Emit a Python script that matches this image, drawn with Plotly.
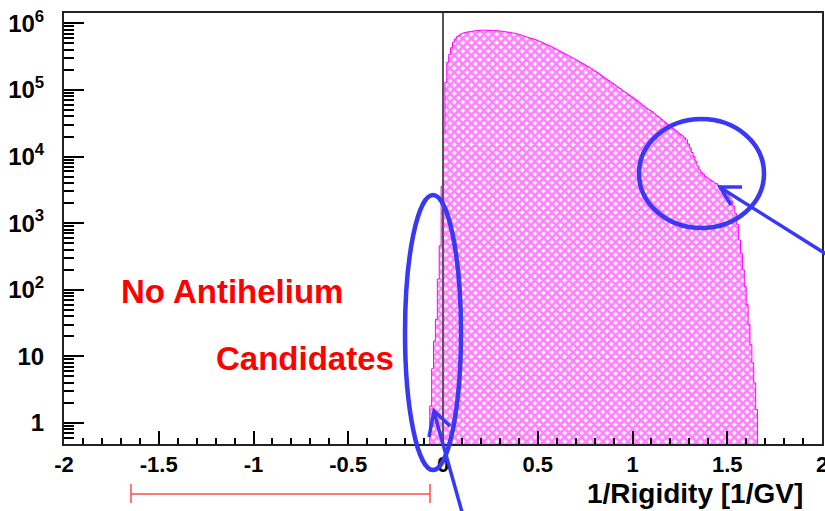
import plotly.graph_objects as go

# ---------------- data ----------------
bin_start = -0.07
bin_width = 0.01
counts = [
    1.8, 6.5, 17, 36, 145, 460, 3600,                     # -0.07 .. -0.01
    2.3e4, 1.3e5, 2.6e5, 3.4e5, 4.3e5, 5.2e5, 5.8e5, 6.3e5, 6.6e5, 6.9e5,   # 0.00 .. 0.09
    7.1e5, 7.25e5, 7.35e5, 7.45e5, 7.55e5, 7.6e5, 7.7e5, 7.75e5, 7.8e5, 7.85e5,  # 0.10 .. 0.19
    7.9e5, 7.9e5, 7.9e5, 7.9e5, 7.9e5, 7.85e5, 7.8e5, 7.8e5, 7.75e5, 7.7e5,  # 0.20 .. 0.29
    7.65e5, 7.6e5, 7.5e5, 7.45e5, 7.4e5, 7.3e5, 7.2e5, 7.1e5, 7.0e5, 6.9e5,  # 0.30 .. 0.39
    6.8e5, 6.65e5, 6.5e5, 6.35e5, 6.2e5, 6.05e5, 5.95e5, 5.85e5, 5.75e5, 5.6e5,  # 0.40 .. 0.49
    5.43e5, 5.28e5, 5.13e5, 4.98e5, 4.84e5, 4.7e5, 4.57e5, 4.42e5, 4.27e5, 4.12e5,  # 0.50 .. 0.59
    3.98e5, 3.85e5, 3.72e5, 3.6e5, 3.47e5, 3.35e5, 3.24e5, 3.13e5, 3.02e5, 2.92e5,  # 0.60 .. 0.69
    2.82e5, 2.71e5, 2.6e5, 2.51e5, 2.43e5, 2.33e5, 2.24e5, 2.15e5, 2.07e5, 1.98e5,  # 0.70 .. 0.79
    1.9e5, 1.82e5, 1.74e5, 1.66e5, 1.58e5, 1.51e5, 1.45e5, 1.38e5, 1.32e5, 1.26e5,  # 0.80 .. 0.89
    1.2e5, 1.15e5, 1.1e5, 1.05e5, 1.0e5, 9.5e4, 9.1e4, 8.7e4, 8.3e4, 7.9e4,  # 0.90 .. 0.99
    7.6e4, 7.25e4, 6.9e4, 6.55e4, 6.2e4, 5.9e4, 5.6e4, 5.35e4, 5.1e4, 4.9e4,  # 1.00 .. 1.09
    4.7e4, 4.45e4, 4.2e4, 4.0e4, 3.8e4, 3.6e4, 3.4e4, 3.22e4, 3.05e4, 2.9e4,  # 1.10 .. 1.19
    2.75e4, 2.62e4, 2.5e4, 2.37e4, 2.24e4, 2.14e4, 2.04e4, 1.92e4, 1.78e4, 1.55e4,  # 1.20 .. 1.29
    1.35e4, 1.15e4, 1.0e4, 8.5e3, 7.2e3, 6.3e3, 5.75e3, 5.4e3, 5.0e3, 4.8e3,  # 1.30 .. 1.39
    4.6e3, 4.4e3, 4.2e3, 4.0e3, 3.9e3, 3.7e3, 3.6e3, 3.45e3, 3.2e3, 2.95e3,  # 1.40 .. 1.49
    2.7e3, 2.4e3, 2.15e3, 1.8e3, 1.4e3, 950, 560, 355, 200, 112,  # 1.50 .. 1.59
    60, 30, 15, 8, 4, 1.6,  # 1.60 .. 1.65
]

x_tick_vals = [-2, -1.5, -1, -0.5, 0, 0.5, 1, 1.5, 2]
x_tick_text = ["-2", "-1.5", "-1", "-0.5", "0", "0.5", "1", "1.5", "2"]
y_tick_vals = [1, 10, 100, 1e3, 1e4, 1e5, 1e6]
y_tick_text = ["1", "10", "10<sup>2</sup>", "10<sup>3</sup>", "10<sup>4</sup>",
               "10<sup>5</sup>", "10<sup>6</sup>"]
y_minor_vals = [m * 10 ** d for d in range(-1, 7) for m in range(2, 10)]

label_line1 = "No Antihelium"
label_line2 = "Candidates"
x_title = "1/Rigidity [1/GV]"

# ---------------- build histogram outline ----------------
base = 0.2
hx, hy = [bin_start], [base]
for i, c in enumerate(counts):
    lo = bin_start + i * bin_width
    hi = lo + bin_width
    hx += [lo, hi]
    hy += [c, c]
hx.append(bin_start + len(counts) * bin_width)
hy.append(base)
hx.append(bin_start)
hy.append(base)

MAG = "#ff00ff"
BLUE = "#3838f5"
FONT = "Liberation Sans, Arial, Helvetica, sans-serif"

fig = go.Figure()
fig.add_trace(go.Scatter(
    x=hx, y=hy, mode="lines", fill="toself",
    line=dict(color=MAG, width=1),
    fillcolor="white",
    fillpattern=dict(shape="x", fgcolor=MAG, bgcolor="white", size=6, solidity=0.7),
    hoverinfo="skip", showlegend=False,
))

# pixel -> paper helpers for the hand-drawn annotations
L, R, T, B = 64, 822, 13, 444
def px(x):
    return (x - L) / (R - L)
def py(y):
    return (B - y) / (B - T)

shapes = [
    dict(type="line", xref="x", yref="paper", x0=0, x1=0, y0=0, y1=1,
         line=dict(color="#555555", width=2), layer="above"),
    # ellipses
    dict(type="circle", xref="paper", yref="paper", x0=px(405), x1=px(461),
         y0=py(470), y1=py(195), line=dict(color=BLUE, width=4.5)),
    dict(type="circle", xref="paper", yref="paper", x0=px(639), x1=px(764),
         y0=py(228), y1=py(119), line=dict(color=BLUE, width=4.5)),
    # arrow 1
    dict(type="line", xref="paper", yref="paper", x0=px(826), y0=py(254),
         x1=px(721), y1=py(188), line=dict(color=BLUE, width=3.5)),
    dict(type="path", xref="paper", yref="paper",
         path=f"M {px(742)} {py(187)} L {px(720)} {py(187)} L {px(731)} {py(205)}",
         line=dict(color=BLUE, width=3.5)),
    # arrow 2
    dict(type="line", xref="paper", yref="paper", x0=px(462), y0=py(512),
         x1=px(434), y1=py(412), line=dict(color=BLUE, width=3.5)),
    dict(type="path", xref="paper", yref="paper",
         path=f"M {px(429)} {py(437)} L {px(434)} {py(411)} L {px(450)} {py(426)}",
         line=dict(color=BLUE, width=3.5)),
    # red range bar
    dict(type="line", xref="paper", yref="paper", x0=px(131), x1=px(430),
         y0=py(494), y1=py(494), line=dict(color="#ff4a4a", width=1.5)),
    dict(type="line", xref="paper", yref="paper", x0=px(131), x1=px(131),
         y0=py(484), y1=py(503), line=dict(color="#ff4a4a", width=1.5)),
    dict(type="line", xref="paper", yref="paper", x0=px(430), x1=px(430),
         y0=py(484), y1=py(503), line=dict(color="#ff4a4a", width=1.5)),
]

annotations = [
    dict(text=f"<b>{label_line1}</b>", xref="paper", yref="paper",
         x=px(232), y=py(291), showarrow=False, xanchor="center", yanchor="middle",
         font=dict(family=FONT, size=33, color="#ff0000")),
    dict(text=f"<b>{label_line2}</b>", xref="paper", yref="paper",
         x=px(305), y=py(358), showarrow=False, xanchor="center", yanchor="middle",
         font=dict(family=FONT, size=33, color="#ff0000")),
    dict(text=f"<b>{x_title}</b>", xref="paper", yref="paper",
         x=px(805), y=py(494), showarrow=False, xanchor="right", yanchor="middle",
         font=dict(family=FONT, size=28, color="#000000")),
]

fig.update_layout(
    width=825, height=511,
    margin=dict(l=L, r=825 - R, t=T, b=511 - B, autoexpand=False),
    plot_bgcolor="white", paper_bgcolor="white",
    showlegend=False,
    shapes=shapes, annotations=annotations,
    font=dict(family=FONT, color="black"),
)
fig.update_xaxes(
    range=[-2, 2], tickvals=x_tick_vals, ticktext=x_tick_text,
    ticks="inside", ticklen=13, tickwidth=1.5, tickcolor="black",
    minor=dict(ticks="inside", ticklen=6, dtick=0.1, tickwidth=1.5, tickcolor="black"),
    showline=True, linecolor="#222222", linewidth=2, mirror=True,
    showgrid=False, zeroline=False, automargin=False,
    tickfont=dict(family=FONT, size=22, weight="bold"),
    ticklabelstandoff=0, ticklabeloverflow="allow",
)
fig.update_yaxes(
    type="log", range=[-0.315, 6.155], tickvals=y_tick_vals, ticktext=y_tick_text,
    ticks="inside", ticklen=20, tickwidth=1.5, tickcolor="black",
    minor=dict(ticks="inside", ticklen=10, tickvals=y_minor_vals, tickwidth=1.5,
               tickcolor="black"),
    showline=True, linecolor="#222222", linewidth=2, mirror=True,
    showgrid=False, zeroline=False, automargin=False,
    tickfont=dict(family=FONT, size=24, weight="bold"),
    ticklabelstandoff=13, ticklabeloverflow="allow",
)

fig.write_html("out.html", config={"displayModeBar": False},
               post_script="document.body.style.margin='0';document.body.style.overflow='hidden';")
